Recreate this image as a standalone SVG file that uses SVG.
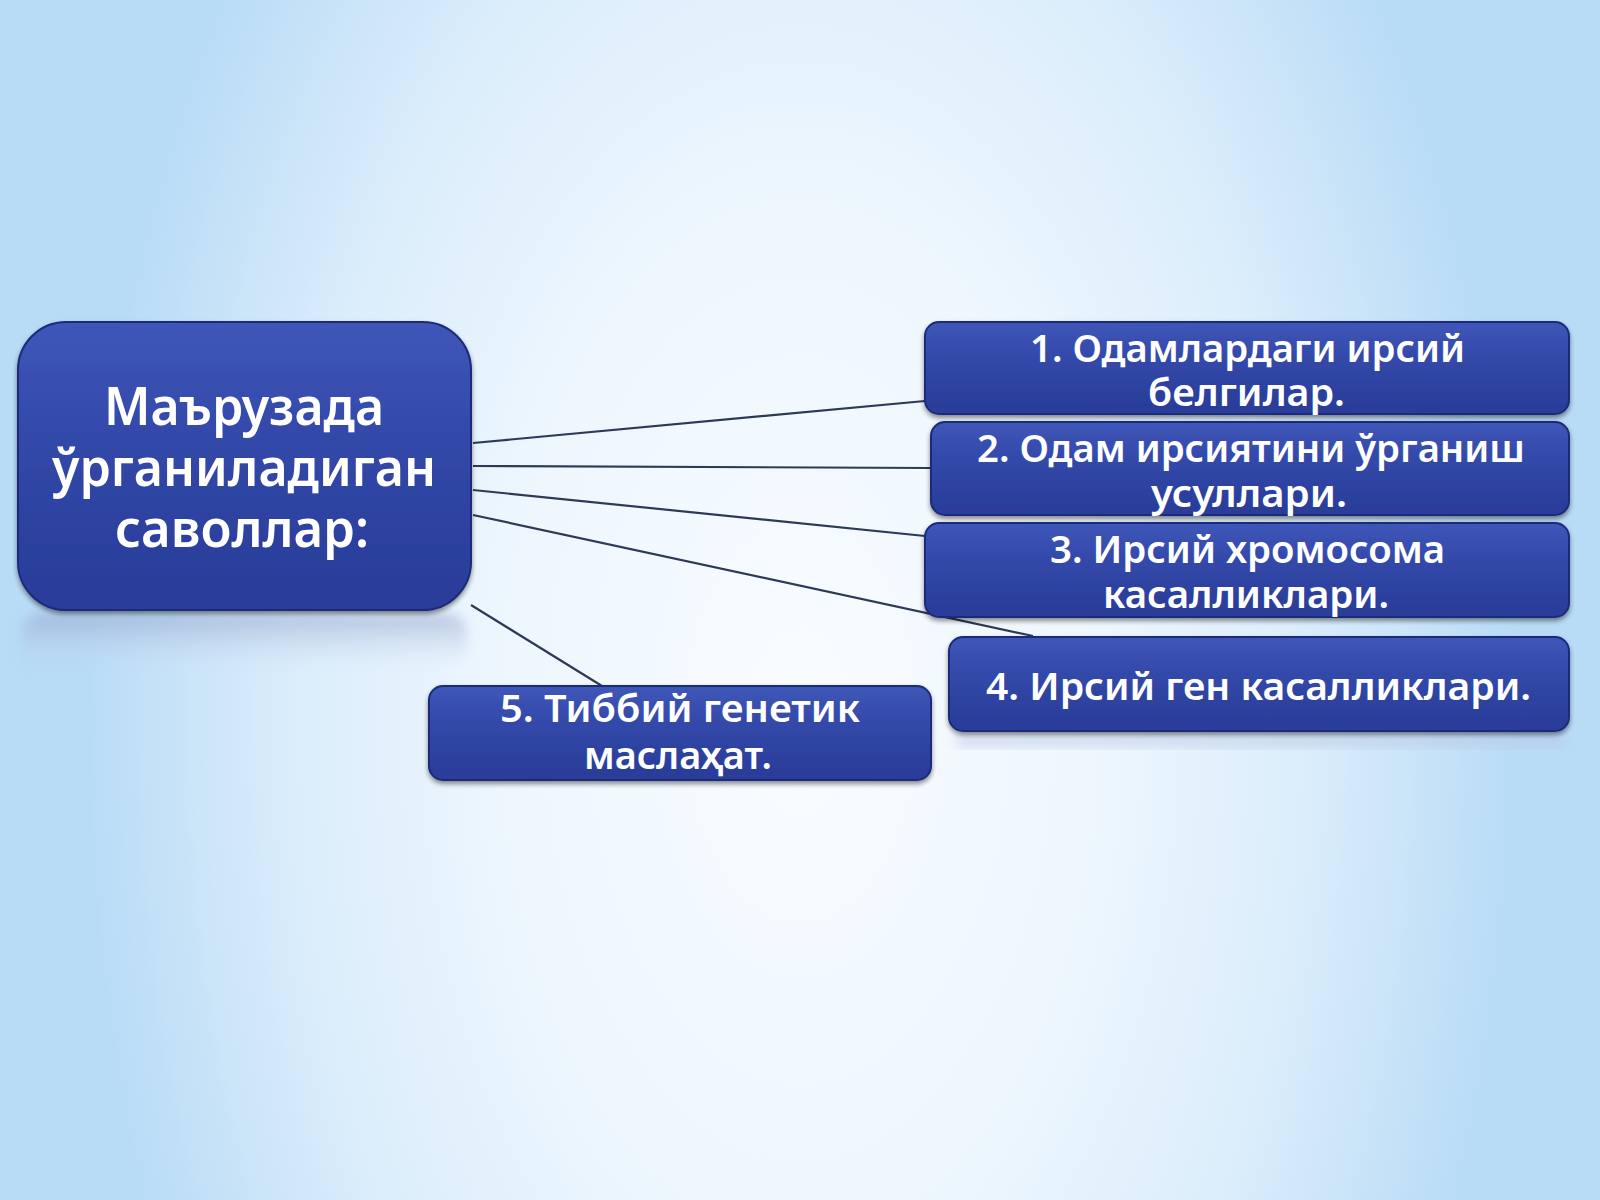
<svg xmlns="http://www.w3.org/2000/svg" width="1600" height="1200" viewBox="0 0 1600 1200">
<defs>
  <radialGradient id="bg" cx="800" cy="720" r="1000" gradientUnits="userSpaceOnUse" gradientTransform="translate(800 720) scale(0.72 1.25) translate(-800 -720)">
    <stop offset="0" stop-color="#f8fcff"/>
    <stop offset="0.4" stop-color="#eef7fe"/>
    <stop offset="0.7" stop-color="#dbedfb"/>
    <stop offset="1" stop-color="#b8dbf6"/>
  </radialGradient>
  <linearGradient id="boxfill" x1="0" y1="0" x2="0" y2="1">
    <stop offset="0" stop-color="#3f56b8"/>
    <stop offset="0.5" stop-color="#3046a6"/>
    <stop offset="1" stop-color="#2a3c98"/>
  </linearGradient>
  <linearGradient id="refl" x1="0" y1="0" x2="0" y2="1">
    <stop offset="0" stop-color="#8c9cc4" stop-opacity="0.55"/>
    <stop offset="1" stop-color="#c8d6ee" stop-opacity="0"/>
  </linearGradient>
  <filter id="shadow" x="-5%" y="-10%" width="110%" height="130%">
    <feGaussianBlur in="SourceAlpha" stdDeviation="2.5"/>
    <feOffset dx="0" dy="3" result="b"/>
    <feComponentTransfer><feFuncA type="linear" slope="0.45"/></feComponentTransfer>
    <feMerge><feMergeNode/><feMergeNode in="SourceGraphic"/></feMerge>
  </filter>
  <filter id="blur6"><feGaussianBlur stdDeviation="6"/></filter>
</defs>
<style>
  .box { fill: url(#boxfill); stroke: #1c2b7c; stroke-width: 2; filter: url(#shadow); }
  .t { fill: #ffffff; font-family: "Noto Sans", "Open Sans", "DejaVu Sans", sans-serif; font-weight: 600; }
  .main { font-size: 53px; }
  .sub { font-size: 38px; }
  .conn { stroke: #2c3a58; stroke-width: 2.2; fill: none; }
</style>
<rect x="0" y="0" width="1600" height="1200" fill="url(#bg)"/>

<g id="reflections">
  <rect x="22" y="614" width="445" height="56" rx="20" fill="url(#refl)" filter="url(#blur6)"/>
  <rect x="955" y="734" width="610" height="14" rx="6" fill="#b8c6e2" opacity="0.5" filter="url(#blur6)"/>
</g>

<g id="connectors">
  <line class="conn" x1="473" y1="443" x2="925" y2="401"/>
  <line class="conn" x1="473" y1="466" x2="931" y2="468"/>
  <line class="conn" x1="473" y1="490" x2="925" y2="536"/>
  <line class="conn" x1="473" y1="515" x2="1033" y2="636"/>
  <line class="conn" x1="471" y1="605" x2="602" y2="686"/>
</g>

<g id="main">
  <rect class="box" x="18" y="322" width="453" height="288" rx="48"/>
  <text class="t main" x="104" y="425" textLength="280" lengthAdjust="spacingAndGlyphs">Маърузада</text>
  <text class="t main" x="52" y="486" textLength="384" lengthAdjust="spacingAndGlyphs">ўрганиладиган</text>
  <text class="t main" x="115" y="547" textLength="254" lengthAdjust="spacingAndGlyphs">саволлар:</text>
</g>

<g id="node1">
  <rect class="box" x="925" y="322" width="644" height="92" rx="14"/>
  <text class="t sub" x="1030" y="362" textLength="435" lengthAdjust="spacingAndGlyphs">1. Одамлардаги ирсий</text>
  <text class="t sub" x="1148" y="406" textLength="197" lengthAdjust="spacingAndGlyphs">белгилар.</text>
</g>

<g id="node2">
  <rect class="box" x="931" y="422" width="638" height="93" rx="14"/>
  <text class="t sub" x="977" y="462" textLength="548" lengthAdjust="spacingAndGlyphs">2. Одам ирсиятини ўрганиш</text>
  <text class="t sub" x="1151" y="507" textLength="196" lengthAdjust="spacingAndGlyphs">усуллари.</text>
</g>

<g id="node3">
  <rect class="box" x="925" y="523" width="644" height="94" rx="14"/>
  <text class="t sub" x="1050" y="563" textLength="395" lengthAdjust="spacingAndGlyphs">3. Ирсий хромосома</text>
  <text class="t sub" x="1103" y="608" textLength="286" lengthAdjust="spacingAndGlyphs">касалликлари.</text>
</g>

<g id="node4">
  <rect class="box" x="949" y="637" width="620" height="94" rx="14"/>
  <text class="t sub" x="986" y="700" textLength="545" lengthAdjust="spacingAndGlyphs">4. Ирсий ген касалликлари.</text>
</g>

<g id="node5">
  <rect class="box" x="429" y="686" width="502" height="94" rx="14"/>
  <text class="t sub" x="500" y="722" textLength="360" lengthAdjust="spacingAndGlyphs">5. Тиббий генетик</text>
  <text class="t sub" x="584" y="769" textLength="188" lengthAdjust="spacingAndGlyphs">маслаҳат.</text>
</g>
</svg>
